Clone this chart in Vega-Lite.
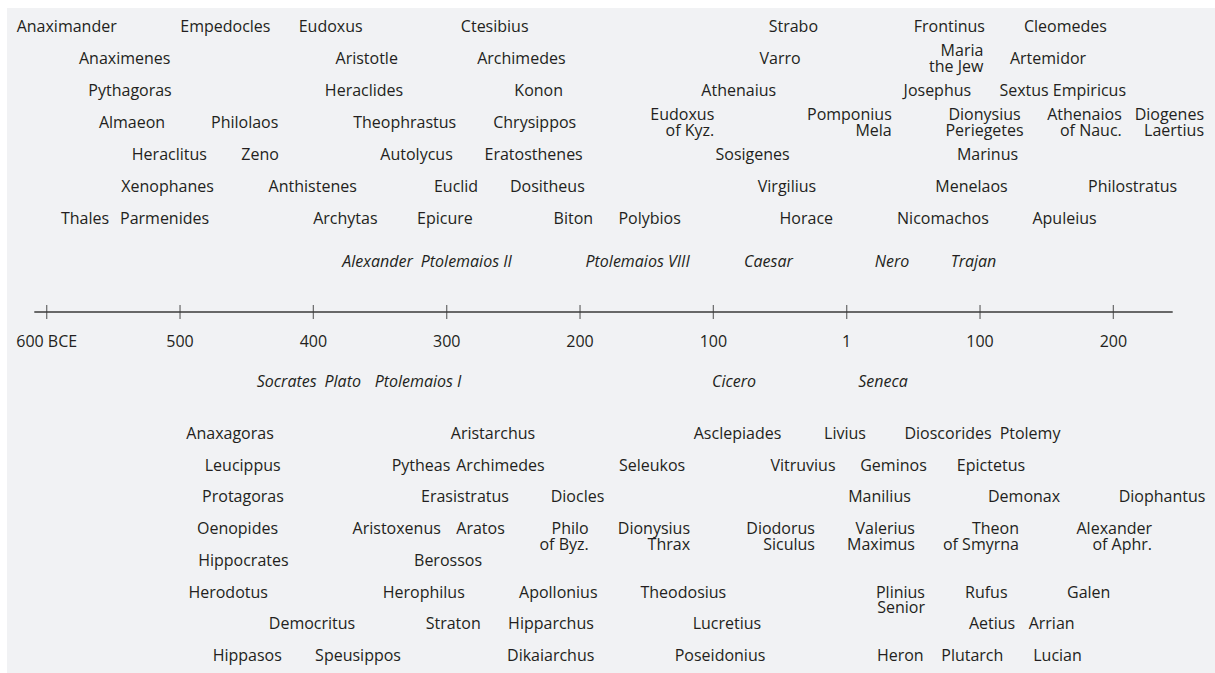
{
  "$schema": "https://vega.github.io/schema/vega-lite/v6.json",
  "width": 1208,
  "height": 665,
  "autosize": {"type": "none"},
  "padding": {"left": 7, "top": 8, "right": 0, "bottom": 0},
  "background": "#ffffff",
  "config": {
    "view": {"fill": "#f1f2f4", "stroke": null},
    "text": {"font": "Open Sans", "fontSize": 16, "color": "#231f20", "baseline": "middle", "lineBreak": "\n", "lineHeight": 15.7}
  },
  "datasets": {
    "scholars": [
      {"name": "Anaximander", "year": -585, "row": 7},
      {"name": "Empedocles", "year": -466, "row": 7},
      {"name": "Eudoxus", "year": -387, "row": 7},
      {"name": "Ctesibius", "year": -264, "row": 7},
      {"name": "Strabo", "year": -40, "row": 7},
      {"name": "Frontinus", "year": 77, "row": 7},
      {"name": "Cleomedes", "year": 164, "row": 7},
      {"name": "Anaximenes", "year": -541.5, "row": 6},
      {"name": "Aristotle", "year": -360, "row": 6},
      {"name": "Archimedes", "year": -244, "row": 6},
      {"name": "Varro", "year": -50, "row": 6},
      {"name": "Artemidor", "year": 151, "row": 6},
      {"name": "Pythagoras", "year": -537.5, "row": 5},
      {"name": "Heraclides", "year": -362, "row": 5},
      {"name": "Konon", "year": -231, "row": 5},
      {"name": "Athenaius", "year": -81, "row": 5},
      {"name": "Josephus", "year": 68, "row": 5},
      {"name": "Sextus Empiricus", "year": 162, "row": 5},
      {"name": "Almaeon", "year": -536, "row": 4},
      {"name": "Philolaos", "year": -451.5, "row": 4},
      {"name": "Theophrastus", "year": -331.5, "row": 4},
      {"name": "Chrysippos", "year": -234, "row": 4},
      {"name": "Dionysius\nPeriegetes", "year": 103.4, "row": 4},
      {"name": "Heraclitus", "year": -508, "row": 3},
      {"name": "Zeno", "year": -440, "row": 3},
      {"name": "Autolycus", "year": -322.6, "row": 3},
      {"name": "Eratosthenes", "year": -234.8, "row": 3},
      {"name": "Sosigenes", "year": -70.6, "row": 3},
      {"name": "Marinus", "year": 105.6, "row": 3},
      {"name": "Xenophanes", "year": -509.4, "row": 2},
      {"name": "Anthistenes", "year": -400.5, "row": 2},
      {"name": "Euclid", "year": -293, "row": 2},
      {"name": "Dositheus", "year": -224.5, "row": 2},
      {"name": "Virgilius", "year": -44.8, "row": 2},
      {"name": "Menelaos", "year": 93.6, "row": 2},
      {"name": "Philostratus", "year": 214.4, "row": 2},
      {"name": "Thales", "year": -571.3, "row": 1},
      {"name": "Parmenides", "year": -511.6, "row": 1},
      {"name": "Archytas", "year": -376, "row": 1},
      {"name": "Epicure", "year": -301.3, "row": 1},
      {"name": "Biton", "year": -205, "row": 1},
      {"name": "Polybios", "year": -147.8, "row": 1},
      {"name": "Horace", "year": -30.3, "row": 1},
      {"name": "Nicomachos", "year": 72.2, "row": 1},
      {"name": "Apuleius", "year": 163.4, "row": 1},
      {"name": "Anaxagoras", "year": -462.5, "row": -1},
      {"name": "Aristarchus", "year": -265.3, "row": -1},
      {"name": "Asclepiades", "year": -81.9, "row": -1},
      {"name": "Livius", "year": -1.3, "row": -1},
      {"name": "Dioscorides", "year": 76, "row": -1},
      {"name": "Ptolemy", "year": 137.5, "row": -1},
      {"name": "Leucippus", "year": -453, "row": -2},
      {"name": "Pytheas", "year": -319.3, "row": -2},
      {"name": "Archimedes", "year": -259.7, "row": -2},
      {"name": "Seleukos", "year": -146, "row": -2},
      {"name": "Vitruvius", "year": -32.8, "row": -2},
      {"name": "Geminos", "year": 35.1, "row": -2},
      {"name": "Epictetus", "year": 108.2, "row": -2},
      {"name": "Protagoras", "year": -452.8, "row": -3},
      {"name": "Erasistratus", "year": -286.3, "row": -3},
      {"name": "Diocles", "year": -201.9, "row": -3},
      {"name": "Manilius", "year": 24.6, "row": -3},
      {"name": "Demonax", "year": 133, "row": -3},
      {"name": "Diophantus", "year": 236.5, "row": -3},
      {"name": "Oenopides", "year": -456.9, "row": -4},
      {"name": "Aristoxenus", "year": -337.5, "row": -4},
      {"name": "Aratos", "year": -274.6, "row": -4},
      {"name": "Hippocrates", "year": -452.5, "row": -5},
      {"name": "Berossos", "year": -299, "row": -5},
      {"name": "Herodotus", "year": -463.9, "row": -6},
      {"name": "Herophilus", "year": -317.2, "row": -6},
      {"name": "Apollonius", "year": -216.3, "row": -6},
      {"name": "Theodosius", "year": -122.5, "row": -6},
      {"name": "Rufus", "year": 104.7, "row": -6},
      {"name": "Galen", "year": 181.5, "row": -6},
      {"name": "Democritus", "year": -401, "row": -7},
      {"name": "Straton", "year": -295.1, "row": -7},
      {"name": "Hipparchus", "year": -221.8, "row": -7},
      {"name": "Lucretius", "year": -89.8, "row": -7},
      {"name": "Aetius", "year": 109, "row": -7},
      {"name": "Arrian", "year": 153.7, "row": -7},
      {"name": "Hippasos", "year": -449.6, "row": -8},
      {"name": "Speusippos", "year": -366.5, "row": -8},
      {"name": "Dikaiarchus", "year": -222, "row": -8},
      {"name": "Poseidonius", "year": -95, "row": -8},
      {"name": "Heron", "year": 40.2, "row": -8},
      {"name": "Plutarch", "year": 94.2, "row": -8},
      {"name": "Lucian", "year": 158.1, "row": -8}
    ],
    "stackedScholars": [
      {"name": "Maria\nthe Jew", "year": 102.5, "row": 6},
      {"name": "Eudoxus\nof Kyz.", "year": -99.3, "row": 4},
      {"name": "Pomponius\nMela", "year": 33.8, "row": 4},
      {"name": "Athenaios\nof Nauc.", "year": 206.3, "row": 4},
      {"name": "Diogenes\nLaertius", "year": 268, "row": 4},
      {"name": "Philo\nof Byz.", "year": -193.5, "row": -4},
      {"name": "Dionysius\nThrax", "year": -117.5, "row": -4},
      {"name": "Diodorus\nSiculus", "year": -23.8, "row": -4},
      {"name": "Valerius\nMaximus", "year": 51.2, "row": -4},
      {"name": "Theon\nof Smyrna", "year": 129.2, "row": -4},
      {"name": "Alexander\nof Aphr.", "year": 229, "row": -4},
      {"name": "Plinius\nSenior", "year": 58.7, "row": -6}
    ],
    "rulers": [
      {"name": "Alexander", "year": -351.9, "row": 0.5},
      {"name": "Ptolemaios II", "year": -285.3, "row": 0.5},
      {"name": "Ptolemaios VIII", "year": -156.8, "row": 0.5},
      {"name": "Caesar", "year": -58.7, "row": 0.5},
      {"name": "Nero", "year": 34, "row": 0.5},
      {"name": "Trajan", "year": 95.1, "row": 0.5},
      {"name": "Socrates", "year": -420, "row": -0.5},
      {"name": "Plato", "year": -378, "row": -0.5},
      {"name": "Ptolemaios I", "year": -321.5, "row": -0.5},
      {"name": "Cicero", "year": -84.5, "row": -0.5},
      {"name": "Seneca", "year": 27.2, "row": -0.5}
    ],
    "timeAxis": [
      {"year": -600, "label": "600 BCE", "row": 0},
      {"year": -500, "label": "500", "row": 0},
      {"year": -400, "label": "400", "row": 0},
      {"year": -300, "label": "300", "row": 0},
      {"year": -200, "label": "200", "row": 0},
      {"year": -100, "label": "100", "row": 0},
      {"year": 0, "label": "1", "row": 0},
      {"year": 100, "label": "100", "row": 0},
      {"year": 200, "label": "200", "row": 0}
    ],
    "axisLine": [{"from": -609.3, "to": 244.5, "row": 0}]
  },
  "encoding": {
    "x": {"field": "year", "type": "quantitative", "scale": {"domain": [-629.775, 276.225], "nice": false, "zero": false}, "axis": null},
    "y": {"field": "row", "type": "quantitative", "scale": {"domain": [-8, -1, -0.5, 0, 0.5, 1, 7], "range": [648, 426, 373.7, 304, 253.7, 210.5, 19.3], "nice": false, "zero": false}, "axis": null}
  },
  "layer": [
    {
      "data": {"name": "axisLine"},
      "mark": {"type": "rule", "color": "#3a3a3a", "strokeWidth": 1.3},
      "encoding": {
        "x": {"field": "from", "type": "quantitative", "scale": {"domain": [-629.775, 276.225], "nice": false, "zero": false}, "axis": null},
        "x2": {"field": "to"}
      }
    },
    {
      "data": {"name": "timeAxis"},
      "mark": {"type": "tick", "orient": "vertical", "color": "#3a3a3a", "size": 14, "thickness": 1.3}
    },
    {
      "data": {"name": "timeAxis"},
      "mark": {"type": "text", "align": "center", "dy": 30},
      "encoding": {"text": {"field": "label"}}
    },
    {
      "data": {"name": "scholars"},
      "transform": [{"filter": "!test(/\\n/, datum.name)"}],
      "mark": {"type": "text", "align": "center"},
      "encoding": {"text": {"field": "name"}}
    },
    {
      "data": {"name": "scholars"},
      "transform": [{"filter": "test(/\\n/, datum.name)"}],
      "mark": {"type": "text", "align": "center", "dy": -7.85},
      "encoding": {"text": {"field": "name"}}
    },
    {
      "data": {"name": "stackedScholars"},
      "transform": [{"filter": "datum.row > 0"}],
      "mark": {"type": "text", "align": "right", "dy": -7.85},
      "encoding": {"text": {"field": "name"}}
    },
    {
      "data": {"name": "stackedScholars"},
      "transform": [{"filter": "datum.row < 0"}],
      "mark": {"type": "text", "align": "right"},
      "encoding": {"text": {"field": "name"}}
    },
    {
      "data": {"name": "rulers"},
      "mark": {"type": "text", "align": "center", "fontStyle": "italic"},
      "encoding": {"text": {"field": "name"}}
    }
  ]
}
